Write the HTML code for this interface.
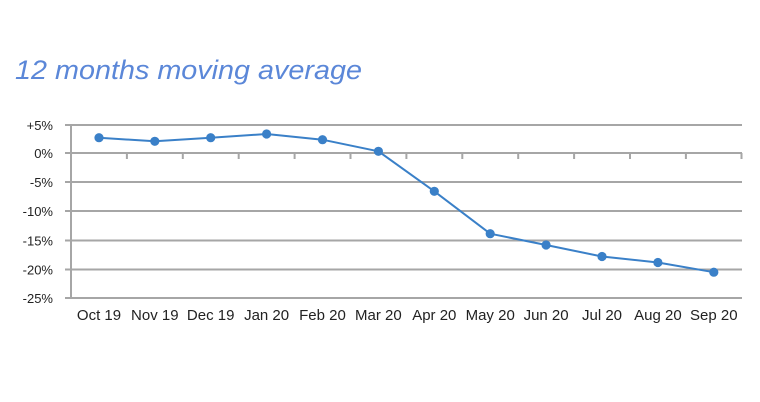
<!DOCTYPE html>
<html>
<head>
<meta charset="utf-8">
<style>
  html, body { margin: 0; padding: 0; background: #ffffff; }
  body { width: 760px; height: 402px; overflow: hidden; }
  svg { display: block; }
  text { font-family: "Liberation Sans", Arial, sans-serif; }
</style>
</head>
<body>
<svg width="760" height="402" viewBox="0 0 760 402" xmlns="http://www.w3.org/2000/svg">
  <rect width="760" height="402" fill="#ffffff"/>

  <!-- Title -->
  <text x="15" y="79" font-size="27" font-style="italic" fill="#5b87d8" textLength="347" lengthAdjust="spacingAndGlyphs">12 months moving average</text>

  <!-- Gridlines -->
  <g stroke="#a6a6a6" stroke-width="2" fill="none">
    <line x1="65" y1="125" x2="742" y2="125"/>
    <line x1="65" y1="153" x2="742" y2="153"/>
    <line x1="65" y1="182" x2="742" y2="182"/>
    <line x1="65" y1="211" x2="742" y2="211"/>
    <line x1="65" y1="240.5" x2="742" y2="240.5"/>
    <line x1="65" y1="269.5" x2="742" y2="269.5"/>
    <line x1="65" y1="298" x2="742" y2="298"/>
    <!-- vertical axis -->
    <line x1="71" y1="124" x2="71" y2="299"/>
    <!-- category ticks on 0% axis -->
    <line x1="126.9" y1="153" x2="126.9" y2="159"/>
    <line x1="182.8" y1="153" x2="182.8" y2="159"/>
    <line x1="238.7" y1="153" x2="238.7" y2="159"/>
    <line x1="294.6" y1="153" x2="294.6" y2="159"/>
    <line x1="350.5" y1="153" x2="350.5" y2="159"/>
    <line x1="406.4" y1="153" x2="406.4" y2="159"/>
    <line x1="462.3" y1="153" x2="462.3" y2="159"/>
    <line x1="518.2" y1="153" x2="518.2" y2="159"/>
    <line x1="574.1" y1="153" x2="574.1" y2="159"/>
    <line x1="630" y1="153" x2="630" y2="159"/>
    <line x1="685.9" y1="153" x2="685.9" y2="159"/>
    <line x1="741.5" y1="153" x2="741.5" y2="159"/>
  </g>

  <!-- Y labels -->
  <g font-size="13" fill="#222222" text-anchor="end">
    <text x="53" y="130">+5%</text>
    <text x="53" y="158">0%</text>
    <text x="53" y="187">-5%</text>
    <text x="53" y="216">-10%</text>
    <text x="53" y="245.5">-15%</text>
    <text x="53" y="274.5">-20%</text>
    <text x="53" y="303">-25%</text>
  </g>

  <!-- X labels -->
  <g font-size="15" fill="#222222" text-anchor="middle">
    <text x="99" y="320">Oct 19</text>
    <text x="154.8" y="320">Nov 19</text>
    <text x="210.7" y="320">Dec 19</text>
    <text x="266.6" y="320">Jan 20</text>
    <text x="322.5" y="320">Feb 20</text>
    <text x="378.4" y="320">Mar 20</text>
    <text x="434.3" y="320">Apr 20</text>
    <text x="490.2" y="320">May 20</text>
    <text x="546.1" y="320">Jun 20</text>
    <text x="602" y="320">Jul 20</text>
    <text x="657.9" y="320">Aug 20</text>
    <text x="713.8" y="320">Sep 20</text>
  </g>

  <!-- Series -->
  <polyline fill="none" stroke="#3a80c8" stroke-width="2" stroke-linejoin="round"
    points="99,137.7 154.8,141.3 210.7,137.7 266.6,134 322.5,139.7 378.4,151.3 434.3,191.3 490.2,233.7 546.1,245 602,256.5 657.9,262.5 713.8,272.2"/>
  <g fill="#3a80c8">
    <circle cx="99" cy="137.7" r="4.6"/>
    <circle cx="154.8" cy="141.3" r="4.6"/>
    <circle cx="210.7" cy="137.7" r="4.6"/>
    <circle cx="266.6" cy="134" r="4.6"/>
    <circle cx="322.5" cy="139.7" r="4.6"/>
    <circle cx="378.4" cy="151.3" r="4.6"/>
    <circle cx="434.3" cy="191.3" r="4.6"/>
    <circle cx="490.2" cy="233.7" r="4.6"/>
    <circle cx="546.1" cy="245" r="4.6"/>
    <circle cx="602" cy="256.5" r="4.6"/>
    <circle cx="657.9" cy="262.5" r="4.6"/>
    <circle cx="713.8" cy="272.2" r="4.6"/>
  </g>
</svg>
</body>
</html>
